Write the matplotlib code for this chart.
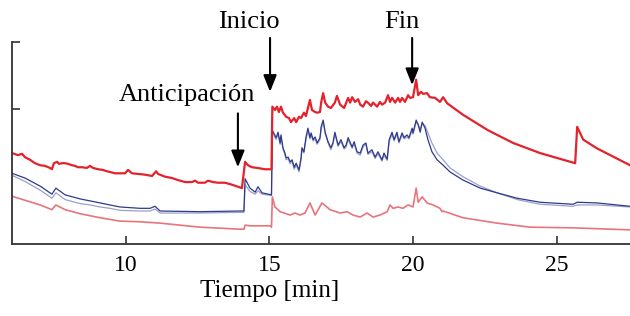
import numpy as np
import matplotlib
matplotlib.use("Agg")
import matplotlib.pyplot as plt

plt.rcParams["font.family"] = ["Liberation Serif", "DejaVu Serif"]

# tiempo [min] y señal (unidades arbitrarias)
t_red = [6.03, 6.24, 6.38, 6.48, 6.66, 6.83, 7.01, 7.18, 7.35, 7.42, 7.49, 7.60, 7.67,
         7.77, 7.88, 7.98, 8.12, 8.23, 8.33, 8.47, 8.64, 8.75, 8.85, 9.03, 9.20, 9.34,
         9.44, 9.62, 9.79, 9.97, 10.07, 10.21, 10.42, 10.66, 10.91, 11.05, 11.12, 11.36,
         11.60, 11.81, 12.06, 12.30, 12.41, 12.51, 12.75, 12.86, 13.03, 13.21, 13.45,
         13.70, 13.90, 14.04, 14.11, 14.15, 14.25, 14.39, 14.57, 14.85, 15.07,
         15.10, 15.19, 15.26, 15.33, 15.40, 15.47, 15.58, 15.68, 15.75, 15.86, 15.93,
         16.03, 16.10, 16.20, 16.27, 16.41, 16.48, 16.59, 16.66, 16.76, 16.80, 16.87,
         16.94, 17.04, 17.14, 17.28, 17.35, 17.46, 17.60, 17.74, 17.81, 17.88, 17.98,
         18.09, 18.16, 18.26, 18.36, 18.43, 18.54, 18.61, 18.75, 18.85, 18.92, 19.03,
         19.13, 19.20, 19.27, 19.38, 19.48, 19.55, 19.62, 19.72, 19.83, 19.90, 20.00,
         20.11, 20.18, 20.28, 20.35, 20.49, 20.59, 20.77, 20.94, 21.05, 21.19, 21.74,
         22.61, 23.49, 24.43, 25.65, 25.72, 25.93, 26.41, 27.56]
v_red = [1.35, 1.32, 1.34, 1.29, 1.25, 1.20, 1.17, 1.16, 1.13, 1.11, 1.20, 1.22, 1.19,
         1.20, 1.20, 1.19, 1.17, 1.16, 1.14, 1.14, 1.13, 1.16, 1.13, 1.11, 1.10, 1.08,
         1.07, 1.05, 1.05, 1.05, 1.10, 1.05, 1.04, 1.03, 1.01, 1.08, 1.04, 1.00,
         0.98, 0.95, 0.92, 0.92, 0.94, 0.91, 0.91, 0.94, 0.92, 0.91, 0.91,
         0.88, 0.85, 0.83, 1.07, 1.22, 1.17, 1.14, 1.13, 1.11, 1.11,
         2.04, 1.99, 2.04, 1.96, 2.04, 1.95, 1.89, 1.87, 1.81, 1.87, 1.81,
         1.89, 1.87, 1.95, 1.90, 2.14, 1.99, 1.96, 1.95, 1.96, 2.10, 2.24,
         2.10, 2.04, 2.02, 2.10, 2.20, 2.07, 2.02, 2.17, 2.10, 2.18, 2.11,
         2.15, 2.07, 2.04, 2.12, 2.10, 2.05, 2.10, 2.04, 2.11, 2.07, 2.10,
         2.21, 2.11, 2.17, 2.10, 2.17, 2.11, 2.17, 2.11, 2.21, 2.17, 2.18,
         2.44, 2.21, 2.26, 2.23, 2.24, 2.18, 2.17, 2.11, 2.18, 2.09, 1.92,
         1.69, 1.50, 1.35, 1.20, 1.74, 1.55, 1.42, 1.17]

t_blue = [6.03, 6.48, 7.01, 7.42, 7.56, 7.88, 8.40, 8.75, 9.10, 9.44, 9.79, 10.49, 10.84,
          11.01, 11.19, 12.58, 13.97, 14.11, 14.15, 14.32, 14.50, 14.60, 14.74, 15.07,
          15.10, 15.23, 15.30, 15.37, 15.40, 15.47, 15.54, 15.58, 15.65, 15.72, 15.79,
          15.86, 15.93, 16.03, 16.10, 16.13, 16.20, 16.27, 16.34, 16.41, 16.45, 16.52,
          16.59, 16.66, 16.76, 16.80, 16.87, 16.94, 17.04, 17.14, 17.21, 17.28, 17.32,
          17.39, 17.49, 17.60, 17.67, 17.74, 17.88, 17.95, 18.05, 18.16, 18.26, 18.36,
          18.43, 18.57, 18.68, 18.78, 18.92, 18.99, 19.10, 19.17, 19.27, 19.34, 19.44,
          19.51, 19.62, 19.69, 19.79, 19.86, 19.97, 20.00, 20.11, 20.18, 20.25, 20.32,
          20.42, 20.52, 20.66, 20.84, 21.05, 21.29, 21.74, 22.34, 22.93, 23.63, 24.43,
          25.58, 25.72, 26.41, 27.56]
v_blue = [1.05, 0.98, 0.86, 0.74, 0.83, 0.73, 0.67, 0.64, 0.61, 0.58, 0.55, 0.53, 0.53,
          0.56, 0.49, 0.48, 0.49, 0.49, 0.97, 0.83, 0.77, 0.85, 0.76, 0.73,
          1.69, 1.58, 1.66, 1.50, 1.62, 1.43, 1.35, 1.28, 1.29, 1.22, 1.25,
          1.14, 1.20, 1.10, 1.28, 1.43, 1.37, 1.58, 1.72, 1.58, 1.65, 1.55,
          1.59, 1.50, 1.58, 1.74, 1.84, 1.66, 1.52, 1.43, 1.50, 1.66, 1.59,
          1.47, 1.55, 1.43, 1.47, 1.58, 1.44, 1.52, 1.37, 1.35, 1.47, 1.50,
          1.35, 1.40, 1.29, 1.37, 1.25, 1.35, 1.26, 1.55, 1.66, 1.55, 1.66,
          1.52, 1.65, 1.58, 1.62, 1.58, 1.72, 1.65, 1.84, 1.77, 1.66, 1.81,
          1.72, 1.55, 1.37, 1.25, 1.17, 1.07, 0.95, 0.83, 0.76, 0.68, 0.62,
          0.59, 0.62, 0.61, 0.56]
v_blue_light = [1.02, 0.93, 0.80, 0.68, 0.76, 0.66, 0.60, 0.58, 0.55, 0.53, 0.50, 0.49, 0.49,
                0.52, 0.46, 0.46, 0.47, 0.47, 0.88, 0.78, 0.74, 0.79, 0.74, 0.72,
                1.66, 1.55, 1.63, 1.48, 1.59, 1.41, 1.32, 1.25, 1.27, 1.19, 1.23,
                1.11, 1.17, 1.07, 1.25, 1.40, 1.35, 1.55, 1.69, 1.56, 1.62, 1.53,
                1.56, 1.48, 1.55, 1.71, 1.81, 1.64, 1.50, 1.40, 1.48, 1.63, 1.57,
                1.45, 1.52, 1.41, 1.44, 1.55, 1.42, 1.49, 1.35, 1.32, 1.44, 1.48,
                1.33, 1.37, 1.27, 1.34, 1.23, 1.32, 1.24, 1.52, 1.63, 1.53, 1.63,
                1.50, 1.62, 1.56, 1.59, 1.56, 1.69, 1.63, 1.81, 1.78, 1.70, 1.79,
                1.76, 1.65, 1.50, 1.35, 1.25, 1.13, 1.00, 0.86, 0.76, 0.66, 0.59,
                0.56, 0.58, 0.58, 0.55]

t_pink = [6.03, 6.48, 7.01, 7.42, 7.56, 7.88, 8.40, 9.10, 9.79, 10.49, 11.19, 12.58, 13.97,
          14.11, 14.15, 14.32, 15.02, 15.07, 15.10, 15.19, 15.37, 15.72, 15.89, 16.06,
          16.24, 16.41, 16.59, 16.83, 17.11, 17.46, 17.70, 17.91, 18.16, 18.40, 18.61,
          18.85, 19.10, 19.20, 19.31, 19.48, 19.65, 19.83, 20.00, 20.11, 20.18, 20.32,
          20.49, 20.70, 20.94, 21.01, 21.05, 21.74, 22.93, 24.08, 25.58, 27.56]
v_pink = [0.71, 0.65, 0.58, 0.51, 0.58, 0.51, 0.45, 0.39, 0.34, 0.33, 0.31, 0.25, 0.22,
          0.22, 0.28, 0.27, 0.27, 0.25, 0.70, 0.55, 0.48, 0.43, 0.46, 0.43,
          0.46, 0.61, 0.43, 0.61, 0.51, 0.46, 0.48, 0.43, 0.40, 0.46, 0.40,
          0.43, 0.48, 0.58, 0.53, 0.55, 0.53, 0.58, 0.55, 0.83, 0.62, 0.70,
          0.61, 0.58, 0.53, 0.48, 0.49, 0.39, 0.31, 0.25, 0.24, 0.21]

x_ticks = [10, 15, 20, 25]

# (texto, punta de la flecha, largo de la flecha, posición del texto)
events = [
    ("Anticipación", (13.90, 1.14), 0.80, (12.13, 2.21)),
    ("Inicio", (15.02, 2.26), 0.80, (14.29, 3.30)),
    ("Fin", (19.97, 2.36), 0.70, (19.62, 3.30)),
]

fig = plt.figure(figsize=(6.3, 3.16), dpi=100)
ax = fig.add_axes([12 / 630, 72 / 316, 618 / 630, 202 / 316])

ax.plot(t_pink, v_pink, color="#e8747c", lw=1.2)
ax.plot(t_blue, v_blue_light, color="#9aa0cc", lw=0.9)
ax.plot(t_blue, v_blue, color="#2f3a8a", lw=0.9)
ax.plot(t_red, v_red, color="#e3222c", lw=1.6)

ax.set_xlim(6.03, 27.56)
ax.set_ylim(0, 3)
ax.set_xticks(x_ticks)
ax.set_yticks([2, 3])
ax.set_yticklabels([])
ax.tick_params(axis="both", direction="in", length=6, width=1.2, color="#333333")
ax.tick_params(axis="x", labelsize=17, pad=8)
for s in ["top", "right"]:
    ax.spines[s].set_visible(False)
for s in ["left", "bottom"]:
    ax.spines[s].set_linewidth(1.3)
    ax.spines[s].set_color("#333333")

ax.set_xlabel("Tiempo [min]", fontsize=18, va="center")
ax.xaxis.set_label_coords((270 - 12) / 618, -(291 - 244) / 202)

for label, tip, length, txt in events:
    ax.text(txt[0], txt[1], label, fontsize=19, ha="center", va="center", clip_on=False)
    ax.annotate("", xy=tip, xytext=(tip[0], tip[1] + length),
                arrowprops=dict(arrowstyle="-|>,head_length=1.0,head_width=0.4",
                                mutation_scale=10, lw=1.5, color="black",
                                shrinkA=0, shrinkB=0),
                annotation_clip=False)

fig.savefig("out.png", dpi=100)
